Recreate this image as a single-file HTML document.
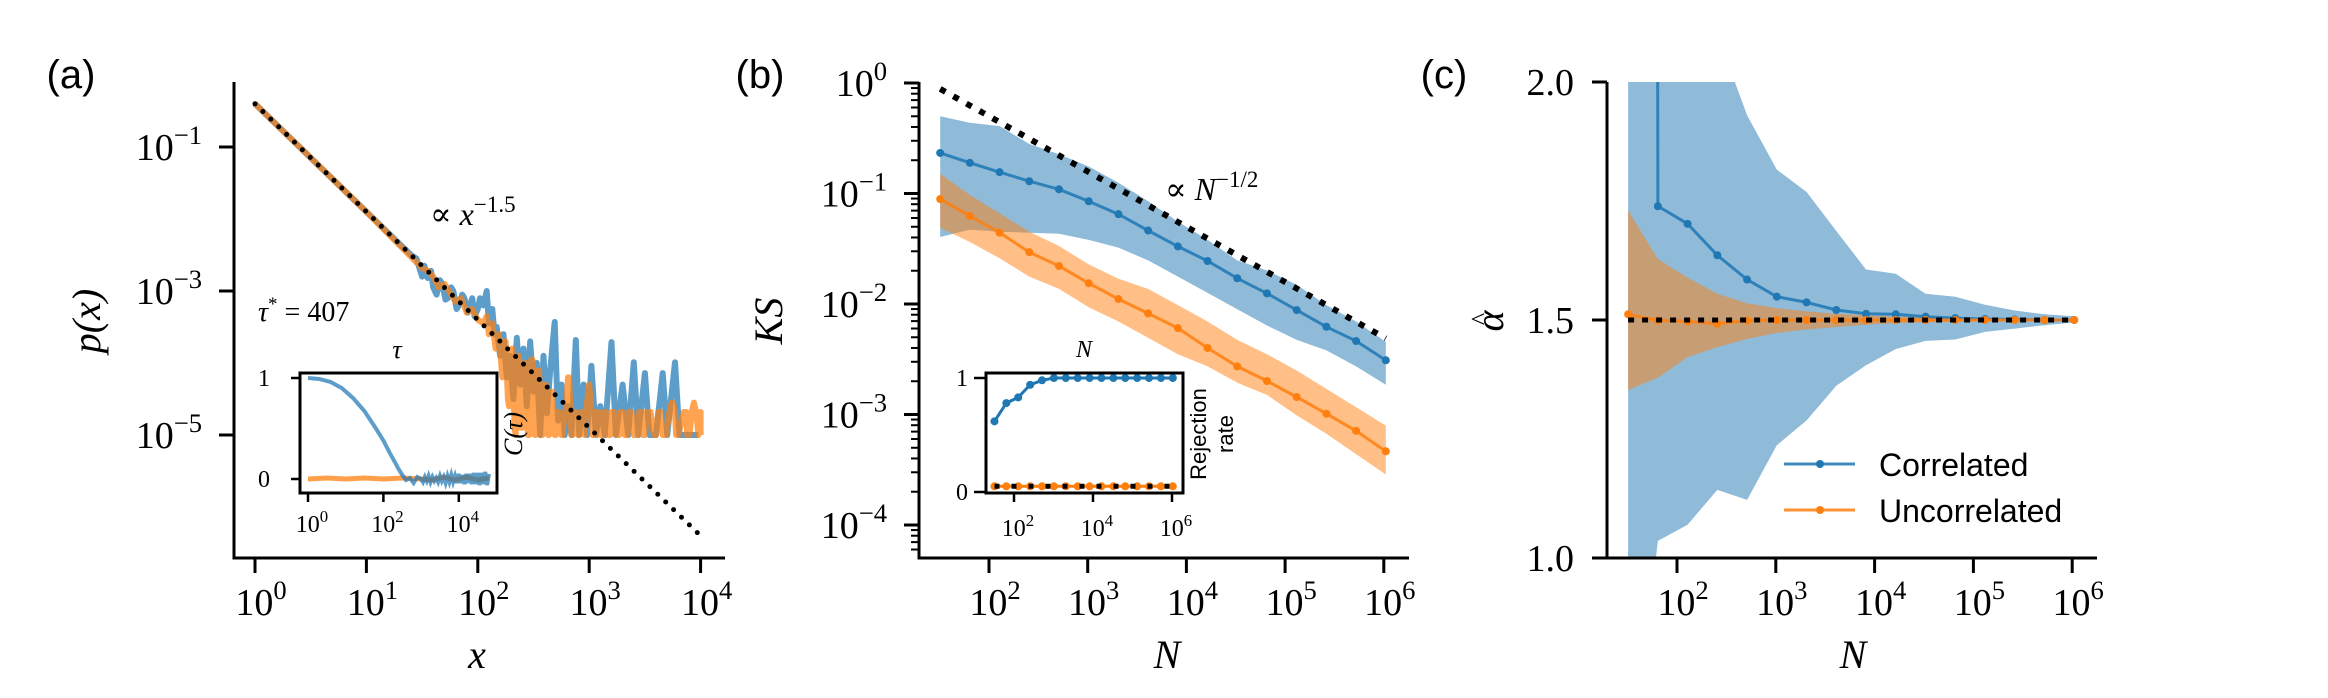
<!DOCTYPE html>
<html><head><meta charset="utf-8"><style>
html,body{margin:0;padding:0;background:#fff;width:2328px;height:698px;overflow:hidden;}
svg{display:block;}
.serif{font-family:"Liberation Serif","DejaVu Serif",serif;}
.sans{font-family:"Liberation Sans","DejaVu Sans",sans-serif;}
</style></head><body>
<svg id="fig" width="2328" height="698" viewBox="0 0 2328 698" xmlns="http://www.w3.org/2000/svg">
<defs>
<clipPath id="clipC"><rect x="1607" y="82" width="490" height="476"/></clipPath>
<clipPath id="clipB"><rect x="919" y="82" width="490" height="476"/></clipPath>
<clipPath id="clipIA"><rect x="300" y="373" width="197" height="120"/></clipPath>
</defs>
<g id="pa"></g>
<g id="pb"></g>
<g id="pc"></g>
</svg>
<script>
// ---------- DATA ----------
// Panel (a): empirical distributions (log10 x, log10 p)
const aBlueLX=[0,0.5,1.0,1.3,1.4,1.45,1.5,1.52,1.55,1.58,1.6,1.63,1.66,1.68,1.71,1.73,1.76,1.78,1.81,1.83,1.86,1.88,1.91,1.93,1.95,1.97,2.0,2.02,2.05,2.08,2.1,2.13,2.15,2.17,2.2,2.23,2.26,2.29,2.32,2.35,2.38,2.41,2.44,2.47,2.5,2.53,2.56,2.59,2.62,2.65,2.69,2.72,2.75,2.78,2.81,2.84,2.88,2.91,2.95,2.98,3.02,3.06,3.1,3.14,3.2,3.24,3.3,3.35,3.4,3.44,3.5,3.54,3.6,3.66,3.7,3.77,3.81,3.9,3.98];
const aBlueLP=[-0.4,-1.15,-1.9,-2.35,-2.5,-2.55,-2.8,-2.65,-2.82,-2.72,-2.95,-3.05,-2.85,-2.9,-3.12,-3.1,-2.95,-3.0,-3.25,-3.2,-3.05,-3.1,-3.3,-3.2,-3.1,-3.35,-3.25,-3.1,-3.2,-3.0,-3.45,-3.25,-3.6,-3.5,-3.9,-3.6,-4.2,-3.9,-4.5,-3.65,-4.3,-3.8,-4.6,-3.7,-4.4,-4.0,-5.0,-3.9,-4.7,-4.1,-3.43,-4.8,-4.3,-5.0,-4.6,-5.0,-3.68,-5.0,-4.3,-5.0,-4.04,-5.0,-4.6,-5.0,-3.71,-5.0,-4.3,-5.0,-3.99,-5.0,-4.14,-5.0,-5.0,-4.14,-5.0,-3.99,-5.0,-5.0,-5.0];
const aOrLX=[0,0.5,1.0,1.5,1.55,1.6,1.65,1.7,1.76,1.8,1.85,1.9,1.95,2.0,2.05,2.08,2.1,2.13,2.16,2.19,2.22,2.24,2.25,2.27,2.28,2.3,2.31,2.33,2.34,2.36,2.37,2.39,2.4,2.42,2.43,2.45,2.46,2.48,2.49,2.51,2.52,2.54,2.55,2.57,2.58,2.6,2.61,2.63,2.64,2.66,2.67,2.69,2.7,2.72,2.73,2.75,2.76,2.78,2.79,2.81,2.82,2.84,2.85,2.87,2.88,2.9,2.91,2.93,2.94,2.96,2.97,3.0,3.02,3.03,3.05,3.06,3.08,3.1,3.12,3.13,3.15,3.17,3.19,3.2,3.22,3.25,3.27,3.28,3.3,3.32,3.34,3.36,3.38,3.4,3.43,3.45,3.47,3.48,3.5,3.52,3.55,3.58,3.6,3.62,3.64,3.66,3.69,3.72,3.74,3.75,3.77,3.78,3.8,3.85,3.87,3.88,3.9,3.92,3.94,3.96,3.98,4.0,4.0];
const aOrLP=[-0.4,-1.15,-1.9,-2.68,-2.72,-2.8,-2.95,-2.9,-3.05,-3.15,-3.1,-3.3,-3.25,-3.4,-3.45,-3.35,-3.6,-3.45,-3.8,-3.6,-4.2,-3.7,-3.7,-4.5,-4.6,-3.85,-3.8,-4.9,-5.0,-3.9,-3.9,-4.9,-4.9,-4.0,-4.0,-5.0,-5.0,-3.95,-3.95,-5.0,-5.0,-4.1,-4.1,-5.0,-5.0,-4.3,-4.3,-5.0,-5.0,-4.4,-4.4,-5.0,-5.0,-4.68,-4.68,-5.0,-5.0,-4.68,-4.68,-4.2,-4.2,-5.0,-5.0,-4.68,-4.68,-5.0,-5.0,-4.68,-4.68,-5.0,-4.68,-4.3,-4.68,-5.0,-5.0,-4.68,-4.68,-5.0,-5.0,-4.68,-4.68,-5.0,-5.0,-4.68,-4.68,-5.0,-5.0,-4.68,-4.68,-5.0,-5.0,-4.68,-4.68,-5.0,-5.0,-4.68,-4.68,-5.0,-5.0,-4.68,-4.68,-5.0,-5.0,-4.68,-4.68,-5.0,-5.0,-4.68,-4.55,-4.55,-4.68,-5.0,-5.0,-4.68,-4.68,-5.0,-5.0,-4.68,-4.55,-4.68,-5.0,-4.68,-5.0];
const aFitLX=[0,4];
const aTicksX=[0,1,2,3,4];
const aTicksY=[-1,-3,-5];
// inset (a): autocorrelation C(tau)
const iaBlueLT=[0,0.3,0.6,0.9,1.2,1.5,1.8,2.0,2.15,2.3,2.4,2.5,2.6,2.7,2.8,2.9,3.0,3.05,3.1,3.15,3.2,3.25,3.3,3.35,3.4,3.45,3.5,3.55,3.6,3.65,3.7,3.75,3.8,3.85,3.9,3.95,4.0,4.05,4.1,4.15,4.2,4.25,4.3,4.35,4.4,4.45,4.5,4.55,4.6,4.65,4.7,4.75,4.8];
const iaBlueC=[1.0,0.99,0.96,0.9,0.8,0.67,0.5,0.38,0.27,0.17,0.1,0.04,-0.01,0.01,-0.04,0.02,0.0,-0.03,0.02,-0.02,0.03,-0.03,0.02,-0.02,0.01,-0.03,0.03,-0.02,0.02,-0.04,0.03,-0.03,0.04,-0.03,0.03,-0.04,0.05,-0.04,0.04,-0.05,0.05,-0.04,0.05,-0.05,0.06,-0.05,0.06,-0.06,0.06,-0.05,0.07,-0.06,0.05];
const iaOrLT=[0,0.5,1,1.5,2,2.5,3,3.3,3.6,3.9,4.2,4.5,4.8];
const iaOrC=[0.0,0.01,0.0,0.01,0.0,0.01,0.0,-0.01,0.02,-0.01,0.02,-0.01,0.01];
// Panel (b): KS vs N (N = 2^5 ... 2^20)
const log2N=[5,6,7,8,9,10,11,12,13,14,15,16,17,18,19,20];
const bBlue=[-0.633,-0.722,-0.807,-0.889,-0.962,-1.07,-1.187,-1.335,-1.479,-1.611,-1.767,-1.904,-2.055,-2.206,-2.335,-2.509];
const bBlueHi=[-0.30,-0.36,-0.39,-0.552,-0.644,-0.756,-0.903,-1.07,-1.254,-1.42,-1.605,-1.697,-1.826,-2.01,-2.158,-2.343];
const bBlueLo=[-1.394,-1.327,-1.346,-1.355,-1.365,-1.42,-1.49,-1.605,-1.752,-1.90,-2.048,-2.195,-2.325,-2.42,-2.565,-2.731];
const bOr=[-1.05,-1.204,-1.354,-1.531,-1.656,-1.812,-1.955,-2.085,-2.218,-2.398,-2.565,-2.697,-2.842,-2.993,-3.148,-3.333];
const bOrHi=[-0.822,-1.014,-1.18,-1.346,-1.475,-1.642,-1.771,-1.863,-2.01,-2.158,-2.325,-2.454,-2.602,-2.768,-2.934,-3.1];
const bOrLo=[-1.31,-1.439,-1.586,-1.752,-1.863,-2.029,-2.158,-2.306,-2.454,-2.565,-2.712,-2.823,-3.008,-3.174,-3.358,-3.543];
const bTicksX=[2,3,4,5,6];
const bTicksY=[0,-1,-2,-3,-4];
// inset (b): rejection rate
const ibBlue=[0.62,0.78,0.83,0.94,0.98,1,1,1,1,1,1,1,1,1,1,1];
const ibOr=[0.05,0.05,0.05,0.05,0.05,0.05,0.05,0.05,0.05,0.05,0.05,0.05,0.05,0.05,0.05,0.05];
// Panel (c): alpha-hat vs N
const cBlue=[40,1.739,1.702,1.636,1.585,1.549,1.537,1.521,1.513,1.512,1.507,1.504,1.502,1.501,1.5,1.5];
const cBlueHi=[40,30,2.4,2.1,1.93,1.816,1.769,1.687,1.606,1.597,1.555,1.549,1.532,1.52,1.512,1.508];
const cBlueLo=[0.5,1.036,1.07,1.143,1.122,1.237,1.289,1.362,1.405,1.439,1.456,1.459,1.475,1.482,1.489,1.495];
const cOr=[1.512,1.499,1.497,1.492,1.499,1.5,1.5,1.5,1.5,1.5,1.5,1.5,1.5,1.5,1.5,1.5];
const cOrHi=[1.73,1.628,1.589,1.555,1.535,1.525,1.518,1.513,1.51,1.507,1.505,1.504,1.503,1.502,1.501,1.5];
const cOrLo=[1.353,1.379,1.422,1.443,1.46,1.473,1.48,1.485,1.49,1.493,1.495,1.496,1.497,1.498,1.499,1.5];
const cTicksX=[2,3,4,5,6];
const cTicksY=["1.0","1.5","2.0"];

// ---------- HELPERS ----------
const NS="http://www.w3.org/2000/svg";
const BLUE="#1f77b4",ORANGE="#ff7f0e";
function mk(parent,tag,attrs){const e=document.createElementNS(NS,tag);for(const k in attrs)e.setAttribute(k,attrs[k]);parent.appendChild(e);return e;}
function pts(xs,ys,fx,fy){return xs.map((v,i)=>fx(v).toFixed(1)+","+fy(ys[i]).toFixed(1)).join(" ");}
function pow10(parent,x,y,exp,fs,anchor,name){
  const t=mk(parent,"text",{x:x,y:y,"font-size":fs,"text-anchor":anchor||"middle",class:"serif",fill:"#000"});
  
  
  const a=document.createElementNS(NS,"tspan");a.textContent="10";t.appendChild(a);
  const b=document.createElementNS(NS,"tspan");b.setAttribute("dy",-fs*0.42);b.setAttribute("font-size",fs*0.7);
  b.textContent=exp;t.appendChild(b);return t;}
function txt(parent,x,y,s,fs,cls,anchor,extra){const t=mk(parent,"text",Object.assign({x:x,y:y,"font-size":fs,class:cls,"text-anchor":anchor||"middle",fill:"#000"},extra||{}));t.textContent=s;return t;}

const lN=log2N.map(k=>k*Math.LOG10E*Math.log(2));

// ---------- PANEL A ----------
(function(){
const g=document.getElementById("pa");
const xa=l=>255+111.4*l, ya=l=>147-72*(l+1);
const xi=l=>308+37.7*l, yi=v=>479-101*v;
let t=txt(g,71,88,"(a)",40,"sans","middle");


let p=mk(g,"polyline",{points:pts(aBlueLX,aBlueLP,xa,ya),fill:"none",stroke:BLUE,"stroke-width":6,"stroke-opacity":0.72,"stroke-linejoin":"round"});


p=mk(g,"polyline",{points:pts(aOrLX,aOrLP,xa,ya),fill:"none",stroke:ORANGE,"stroke-width":6,"stroke-opacity":0.72,"stroke-linejoin":"round"});


p=mk(g,"polyline",{points:pts(aFitLX,aFitLX.map(l=>-0.4-1.5*l),xa,ya),fill:"none",stroke:"#000","stroke-width":5,"stroke-dasharray":"0 11","stroke-linecap":"round"});


let s=mk(g,"path",{d:"M234,82 V558 H725",fill:"none",stroke:"#000","stroke-width":3});


aTicksX.forEach(l=>{const tk=mk(g,"line",{x1:xa(l),x2:xa(l),y1:558,y2:573,stroke:"#000","stroke-width":3});
 
 
 pow10(g,xa(l)+6,615,String(l),38,"middle","x-tick-label");});
aTicksY.forEach(l=>{const tk=mk(g,"line",{x1:219,x2:234,y1:ya(l),y2:ya(l),stroke:"#000","stroke-width":3});
 
 
 pow10(g,202,ya(l)+13,"\u2212"+(-l),38,"end","y-tick-label");});
t=txt(g,477,668,"x",40,"serif","middle",{"font-style":"italic"});


t=txt(g,0,0,"",40,"serif","middle",{transform:"translate(100,321) rotate(-90)","font-style":"italic"});
t.textContent="p(x)";


t=txt(g,430,225,"\u221d ",32,"serif","start");
const ti=document.createElementNS(NS,"tspan");ti.setAttribute("font-style","italic");ti.textContent="x";t.appendChild(ti);
const te=document.createElementNS(NS,"tspan");te.setAttribute("dy","-13");te.setAttribute("font-size","23");te.textContent="\u22121.5";t.appendChild(te);


t=txt(g,258,321,"",28,"serif","start");
t.innerHTML='<tspan font-style="italic">τ</tspan><tspan dy="-11" font-size="19">*</tspan><tspan dy="11"> = 407</tspan>';


// inset
const ig=mk(g,"g",{});


const cg=mk(ig,"g",{"clip-path":"url(#clipIA)"});
p=mk(cg,"polyline",{points:pts(iaOrLT,iaOrC,xi,yi),fill:"none",stroke:ORANGE,"stroke-width":5,"stroke-opacity":0.75});


p=mk(cg,"polyline",{points:pts(iaBlueLT,iaBlueC,xi,yi),fill:"none",stroke:BLUE,"stroke-width":4,"stroke-opacity":0.72});


s=mk(ig,"rect",{x:300,y:373,width:197,height:120,fill:"none",stroke:"#000","stroke-width":3});


[0,2,4].forEach(l=>{const tk=mk(ig,"line",{x1:xi(l),x2:xi(l),y1:493,y2:502,stroke:"#000","stroke-width":2.5});
 
 
 pow10(ig,xi(l)+4,532,String(l),24,"middle","inset-x-tick-label");});
[0,1].forEach(v=>{const tk=mk(ig,"line",{x1:291,x2:300,y1:yi(v),y2:yi(v),stroke:"#000","stroke-width":2.5});
 
 
 const l=txt(ig,270,yi(v)+8,String(v),24,"serif","end");
 
 });
t=txt(ig,397,358,"τ",26,"serif","middle",{"font-style":"italic"});


t=txt(ig,0,0,"C(τ)",26,"serif","middle",{transform:"translate(522,434) rotate(-90)","font-style":"italic"});


})();

// ---------- PANEL B ----------
(function(){
const g=document.getElementById("pb");
const xb=l=>989+98.7*(l-2), yb=l=>83-110.5*l;
const xi=l=>1014+39.5*(l-2), yi=v=>492-114*v;
let t=txt(g,760,88,"(b)",40,"sans","middle");


const cg=mk(g,"g",{"clip-path":"url(#clipB)"});
let p=mk(cg,"polygon",{points:pts(lN.concat(lN.slice().reverse()),bBlueHi.concat(bBlueLo.slice().reverse()),xb,yb),fill:BLUE,"fill-opacity":0.5});


p=mk(cg,"polygon",{points:pts(lN.concat(lN.slice().reverse()),bOrHi.concat(bOrLo.slice().reverse()),xb,yb),fill:ORANGE,"fill-opacity":0.5});


p=mk(g,"polyline",{points:pts([lN[0],lN[15]],[lN[0],lN[15]].map(l=>Math.log10(5)-0.5*l),xb,yb),fill:"none",stroke:"#000","stroke-width":6,"stroke-dasharray":"6 9"});


[[bBlue,BLUE,'correlated-ks'],[bOr,ORANGE,'uncorrelated-ks']].forEach(([arr,c,n])=>{
 const l=mk(g,"polyline",{points:pts(lN,arr,xb,yb),fill:"none",stroke:c,"stroke-width":3,"stroke-opacity":0.85});
 
 
 arr.forEach((v,i)=>{const m=mk(g,"circle",{cx:xb(lN[i]),cy:yb(v),r:4,fill:c});
  
  });});
let s=mk(g,"path",{d:"M919,82 V558 H1409",fill:"none",stroke:"#000","stroke-width":3});


bTicksX.forEach(l=>{const tk=mk(g,"line",{x1:xb(l),x2:xb(l),y1:558,y2:573,stroke:"#000","stroke-width":3});
 
 
 pow10(g,xb(l)+6,615,String(l),38,"middle","x-tick-label");});
bTicksY.forEach(l=>{const tk=mk(g,"line",{x1:904,x2:919,y1:yb(l),y2:yb(l),stroke:"#000","stroke-width":3});
 
 
 pow10(g,887,yb(l)+13,l===0?"0":"\u2212"+(-l),38,"end","y-tick-label");});
for(let k=-5;k<0;k++)for(let m=2;m<10;m++){const y=yb(k+Math.log10(m));if(y<82||y>558)continue;
 const tk=mk(g,"line",{x1:911,x2:919,y1:y,y2:y,stroke:"#000","stroke-width":2});
 
 }
t=txt(g,1167,668,"N",40,"serif","middle",{"font-style":"italic"});


t=txt(g,0,0,"KS",40,"serif","middle",{transform:"translate(782,321) rotate(-90)","font-style":"italic"});


t=txt(g,1165,200,"",32,"serif","start");
t.innerHTML='∝ <tspan font-style="italic">N</tspan><tspan dy="-13" font-size="23">−1/2</tspan>';


// inset
const ig=mk(g,"g",{});


const lnI=[lN[0],lN[15]];
p=mk(ig,"polyline",{points:pts(lN,ibOr,xi,yi),fill:"none",stroke:ORANGE,"stroke-width":3});


ibOr.forEach((v,i)=>{const m=mk(ig,"circle",{cx:xi(lN[i]),cy:yi(v),r:4,fill:ORANGE});
 
 });
p=mk(ig,"polyline",{points:pts(lnI,[0.05,0.05],xi,yi),fill:"none",stroke:"#000","stroke-width":5,"stroke-dasharray":"5 12"});


p=mk(ig,"polyline",{points:pts(lN,ibBlue,xi,yi),fill:"none",stroke:BLUE,"stroke-width":3});


ibBlue.forEach((v,i)=>{const m=mk(ig,"circle",{cx:xi(lN[i]),cy:yi(v),r:4,fill:BLUE});
 
 });
s=mk(ig,"rect",{x:986,y:373,width:197,height:120,fill:"none",stroke:"#000","stroke-width":3});


[2,4,6].forEach(l=>{const tk=mk(ig,"line",{x1:xi(l),x2:xi(l),y1:493,y2:502,stroke:"#000","stroke-width":2.5});
 
 
 pow10(ig,xi(l)+4,536,String(l),24,"middle","inset-x-tick-label");});
[0,1].forEach(v=>{const tk=mk(ig,"line",{x1:974,x2:986,y1:yi(v),y2:yi(v),stroke:"#000","stroke-width":2.5});
 
 
 const l=txt(ig,968,yi(v)+8,String(v),24,"serif","end");
 
 });
t=txt(ig,1084,357,"N",24,"serif","middle",{"font-style":"italic"});


t=txt(ig,0,0,"Rejection",22,"sans","middle",{transform:"translate(1206,434) rotate(-90)"});


t=txt(ig,0,0,"rate",22,"sans","middle",{transform:"translate(1233,434) rotate(-90)"});


})();

// ---------- PANEL C ----------
(function(){
const g=document.getElementById("pc");
const xc=l=>1677+98.8*(l-2), yc=v=>558-476*(v-1);
let t=txt(g,1444,88,"(c)",40,"sans","middle");


const cg=mk(g,"g",{"clip-path":"url(#clipC)"});
let p=mk(cg,"polygon",{points:pts(lN.concat(lN.slice().reverse()),cBlueHi.concat(cBlueLo.slice().reverse()),xc,yc),fill:BLUE,"fill-opacity":0.5});


p=mk(cg,"polygon",{points:pts(lN.concat(lN.slice().reverse()),cOrHi.concat(cOrLo.slice().reverse()),xc,yc),fill:ORANGE,"fill-opacity":0.5});


[[cBlue,BLUE,'correlated-alpha'],[cOr,ORANGE,'uncorrelated-alpha']].forEach(([arr,c,n])=>{
 const l=mk(cg,"polyline",{points:pts(lN,arr,xc,yc),fill:"none",stroke:c,"stroke-width":3,"stroke-opacity":0.85});
 
 
 arr.forEach((v,i)=>{const m=mk(cg,"circle",{cx:xc(lN[i]),cy:yc(v),r:4,fill:c});
  
  });});
p=mk(g,"polyline",{points:pts([lN[0],lN[15]],[1.5,1.5],xc,yc),fill:"none",stroke:"#000","stroke-width":5,"stroke-dasharray":"6 8"});


let s=mk(g,"path",{d:"M1607,82 V558 H2097",fill:"none",stroke:"#000","stroke-width":3});


cTicksX.forEach(l=>{const tk=mk(g,"line",{x1:xc(l),x2:xc(l),y1:558,y2:573,stroke:"#000","stroke-width":3});
 
 
 pow10(g,xc(l)+6,615,String(l),38,"middle","x-tick-label");});
cTicksY.forEach(lb=>{const y=yc(parseFloat(lb));const tk=mk(g,"line",{x1:1592,x2:1607,y1:y,y2:y,stroke:"#000","stroke-width":3});
 
 
 const l=txt(g,1574,y+13,lb,38,"serif","end");
 
 });
t=txt(g,1853,668,"N",40,"serif","middle",{"font-style":"italic"});


const ag=mk(g,"g",{transform:"translate(1503,321) rotate(-90)"});


txt(ag,0,0,"α",40,"serif","middle",{"font-style":"italic"});
txt(ag,2,-14,"^",26,"serif","middle");
// legend
const lg=mk(g,"g",{});


[["Correlated",BLUE,464],["Uncorrelated",ORANGE,510]].forEach(([lab,c,y])=>{
 const e=mk(lg,"g",{});
 
 
 mk(e,"line",{x1:1784,x2:1855,y1:y,y2:y,stroke:c,"stroke-width":3,"stroke-opacity":0.85});
 mk(e,"circle",{cx:1820,cy:y,r:4,fill:c});
 txt(e,1879,y+12,lab,32,"sans","start");});
})();
</script>
</body></html>
